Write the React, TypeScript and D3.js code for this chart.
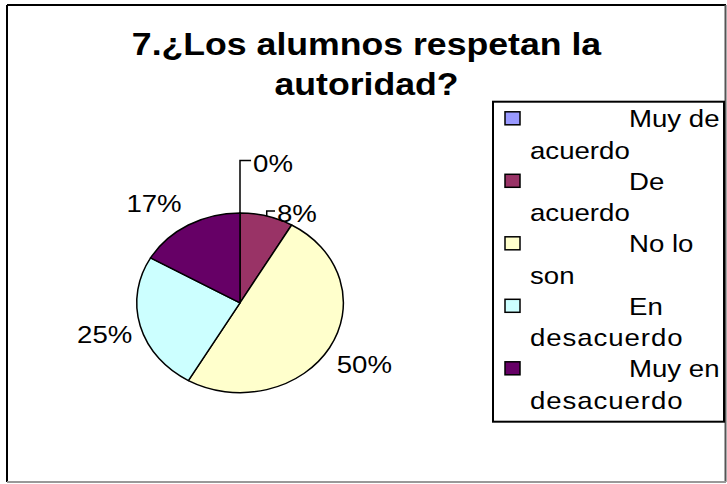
import React from "react";
import * as d3 from "d3";

const categories = ["Muy de acuerdo", "De acuerdo", "No lo son", "En desacuerdo", "Muy en desacuerdo"];
const legendLine1 = ["Muy de", "De", "No lo", "En", "Muy en"];
const legendLine2 = ["acuerdo", "acuerdo", "son", "desacuerdo", "desacuerdo"];
const counts = [0, 1, 6, 3, 2];
const sliceColors = ["#9999FF", "#993366", "#FFFFCC", "#CCFFFF", "#660066"];
const titleLines = ["7.¿Los alumnos respetan la", "autoridad?"];

// layout (not data)
const W = 727;
const H = 484;
const SX = 1.15; // horizontal stretch of the original picture
const FONT = "'Liberation Sans', Arial, sans-serif";
const cx = 240;
const cy = 302.8;
const r = 89.8;
// per-label nudges relative to the default outside-label placement
const labelNudge: [number, number][] = [
  [33, -27],
  [6, 20],
  [-7, 1],
  [8, -4],
  [1.5, -1],
];
const leader = [true, true, false, false, false];

function SText(props: { x: number; y: number; anchor?: string; size: number; bold?: boolean; children: React.ReactNode; ls?: number }) {
  const { x, y, anchor = "start", size, bold, children, ls } = props;
  return (
    <text
      transform={`translate(${x},${y}) scale(${SX},1)`}
      textAnchor={anchor}
      fontFamily={FONT}
      fontSize={size}
      fontWeight={bold ? "bold" : "normal"}
      letterSpacing={ls || 0}
      fill="#000"
    >
      {children}
    </text>
  );
}

export default function App() {
  const total = d3.sum(counts);
  const pie = d3.pie<number>().sort(null).value((d) => d)(counts);
  const arc = d3.arc<d3.PieArcDatum<number>>().innerRadius(0).outerRadius(r);
  const fmt = d3.format(".0%");

  const labelSize = 24;
  const cap = labelSize * 0.716;
  const textW = (s: string) => {
    let w = 0;
    for (const ch of s) w += ch === "%" ? 0.889 : 0.556;
    return w * labelSize * SX;
  };

  const labels = pie.map((p, i) => {
    const a = (p.startAngle + p.endAngle) / 2;
    const s = Math.sin(a);
    const c = Math.cos(a);
    const L = r * 1.16;
    const px = cx + s * L * SX;
    const py = cy - c * L;
    const txt = fmt(p.value / total);
    const w = textW(txt);
    let left = s > 0.05 ? px : s < -0.05 ? px - w : px - w / 2;
    let base = c > 0.05 ? py : c < -0.05 ? py + cap : py + cap / 2;
    left += labelNudge[i][0];
    base += labelNudge[i][1];
    const edgeX = cx + s * r * SX;
    const edgeY = cy - c * r;
    const top = base - cap;
    return { txt, left, base, top, edgeX, edgeY };
  });

  const lgLeft = 493;
  const lgTop = 101.7;
  const lgRight = 724;
  const lgBottom = 421.7;
  const rowStep = 62.5;
  const row0 = 118.3;

  return (
    <svg width={W} height={H} style={{ position: "absolute", left: 0, top: 0 }} xmlns="http://www.w3.org/2000/svg">
      <rect x={0} y={0} width={W} height={H} fill="#fff" />
      {/* frame */}
      <line x1={7} y1={5} x2={726} y2={5} stroke="#000" strokeWidth={2} />
      <line x1={7} y1={5} x2={7} y2={482} stroke="#000" strokeWidth={2} />
      <line x1={725.5} y1={5} x2={725.5} y2={482} stroke="#555" strokeWidth={2} />
      <line x1={7} y1={482} x2={726} y2={482} stroke="#999" strokeWidth={2} />

      {/* title */}
      <SText x={366.5} y={54.5} anchor="middle" size={31} bold>
        {titleLines[0]}
      </SText>
      <SText x={366.5} y={95} anchor="middle" size={31} bold>
        {titleLines[1]}
      </SText>

      {/* pie */}
      <g transform={`translate(${cx},${cy}) scale(${SX},1)`}>
        {pie.map((p, i) => (
          <path
            key={categories[i]}
            d={arc(p) || ""}
            fill={sliceColors[i]}
            stroke="#000"
            strokeWidth={1.5}
            vectorEffect="non-scaling-stroke"
            strokeLinejoin="round"
          />
        ))}
      </g>

      {/* leaders */}
      {labels.map((l, i) =>
        leader[i] ? (
          <polyline
            key={"ld" + i}
            points={`${l.edgeX},${l.edgeY} ${l.edgeX},${l.top + 6} ${l.left - 2},${l.top + 6}`}
            fill="none"
            stroke="#000"
            strokeWidth={1.5}
          />
        ) : null
      )}

      {/* labels */}
      {labels.map((l, i) => (
        <SText key={"lb" + i} x={l.left} y={l.base} size={labelSize}>
          {l.txt}
        </SText>
      ))}

      {/* legend */}
      <defs>
        <clipPath id="lgclip">
          <rect x={lgLeft} y={lgTop} width={lgRight - lgLeft} height={lgBottom - lgTop} />
        </clipPath>
      </defs>
      <rect x={lgLeft} y={lgTop} width={lgRight - lgLeft} height={lgBottom - lgTop} fill="#fff" stroke="#000" strokeWidth={2} />
      <g clipPath="url(#lgclip)">
        {categories.map((c, i) => {
          const yc = row0 + i * rowStep;
          return (
            <g key={"lg" + c}>
              <rect x={505} y={yc - 6.5} width={15} height={13} fill={sliceColors[i]} stroke="#000" strokeWidth={1.5} />
              <SText x={629} y={yc + 9} size={24}>
                {legendLine1[i]}
              </SText>
              <SText x={530} y={yc + 40.5} size={24} ls={legendLine2[i].length > 8 ? 0.8 : 0}>
                {legendLine2[i]}
              </SText>
            </g>
          );
        })}
      </g>
    </svg>
  );
}
